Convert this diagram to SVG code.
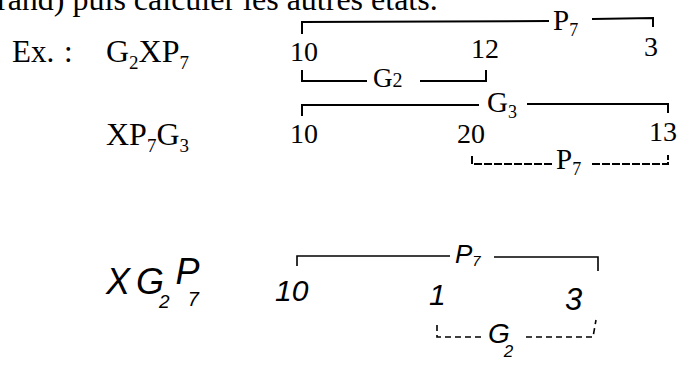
<svg xmlns="http://www.w3.org/2000/svg" width="680" height="369" viewBox="0 0 680 369">
<style>
  .serif { font-family: "Liberation Serif", "Times New Roman", serif; fill: #000; }
  .hand { font-family: "Liberation Sans", Arial, sans-serif; font-style: italic; fill: #000; }
  .br { fill: none; stroke: #000; stroke-width: 2; stroke-linecap: square; }
  .dash { stroke-dasharray: 6 4; }
  .hbr { fill: none; stroke: #000; stroke-width: 1.6; }
</style>
<rect width="680" height="369" fill="#fff"/>
<g id="header">
  <text class="serif" x="-3" y="10" font-size="32">rand) puis calculer les autres états.</text>
</g>
<g id="row-labels">
  <text class="serif" x="12" y="62" font-size="31">Ex.</text>
  <text class="serif" x="64" y="62" font-size="31">:</text>
  <text class="serif" x="106" y="62" font-size="32">G<tspan font-size="19" dy="7">2</tspan><tspan dy="-7">XP</tspan><tspan font-size="19" dy="7">7</tspan></text>
  <text class="serif" x="106" y="145" font-size="32">XP<tspan font-size="19" dy="7">7</tspan><tspan dy="-7">G</tspan><tspan font-size="19" dy="7">3</tspan></text>
  <text class="hand" x="106" y="294" font-size="36">X<tspan dx="6">G</tspan><tspan font-size="19" dx="-5" dy="14">2</tspan><tspan dx="6" dy="-24">P</tspan><tspan font-size="20" dx="-12" dy="22">7</tspan></text>
</g>
<g id="nodes">
  <g id="n-r1-10"><text class="serif" x="290" y="61" font-size="28">10</text></g>
  <g id="n-r1-12"><text class="serif" x="471" y="58" font-size="28">12</text></g>
  <g id="n-r1-3"><text class="serif" x="644" y="56" font-size="28">3</text></g>
  <g id="n-r2-10"><text class="serif" x="290" y="143" font-size="28">10</text></g>
  <g id="n-r2-20"><text class="serif" x="457" y="143" font-size="28">20</text></g>
  <g id="n-r2-13"><text class="serif" x="649" y="141" font-size="28">13</text></g>
  <g id="n-r3-10"><text class="hand" x="275" y="301" font-size="30">10</text></g>
  <g id="n-r3-1"><text class="hand" x="429" y="305" font-size="30">1</text></g>
  <g id="n-r3-3"><text class="hand" x="565" y="310" font-size="31">3</text></g>
</g>
<g id="connectors">
  <path class="br" d="M302,33 V22 L548,21"/>
  <path class="br" d="M593,19 L653,18 V26"/>
  <text class="serif" x="553" y="30" font-size="29">P<tspan font-size="18" dy="6">7</tspan></text>

  <path class="br" d="M302,71 V81 H366"/>
  <path class="br" d="M421,81 H486 V71"/>
  <text class="serif" x="373" y="87" font-size="27">G<tspan font-size="20">2</tspan></text>

  <path class="br" d="M302,115 V105 H478"/>
  <path class="br" d="M528,104 H668 V112"/>
  <text class="serif" x="487" y="112" font-size="29">G<tspan font-size="18" dy="6">3</tspan></text>

  <path class="br dash" d="M472,157 V164 H553"/>
  <path class="br dash" d="M593,164 H668 V156"/>
  <text class="serif" x="556" y="169" font-size="29">P<tspan font-size="18" dy="6">7</tspan></text>

  <path class="hbr" d="M297,266 V256 H450"/>
  <path class="hbr" d="M494,257 H598 V271"/>
  <text class="hand" x="455" y="263" font-size="26">P<tspan font-size="15" dy="3">7</tspan></text>

  <path class="hbr dash" d="M437,325 V337 H484"/>
  <path class="hbr dash" d="M526,337 H593 L596,320"/>
  <text class="hand" x="488" y="343" font-size="28">G<tspan font-size="17" dx="-6" dy="14">2</tspan></text>
</g>
</svg>
